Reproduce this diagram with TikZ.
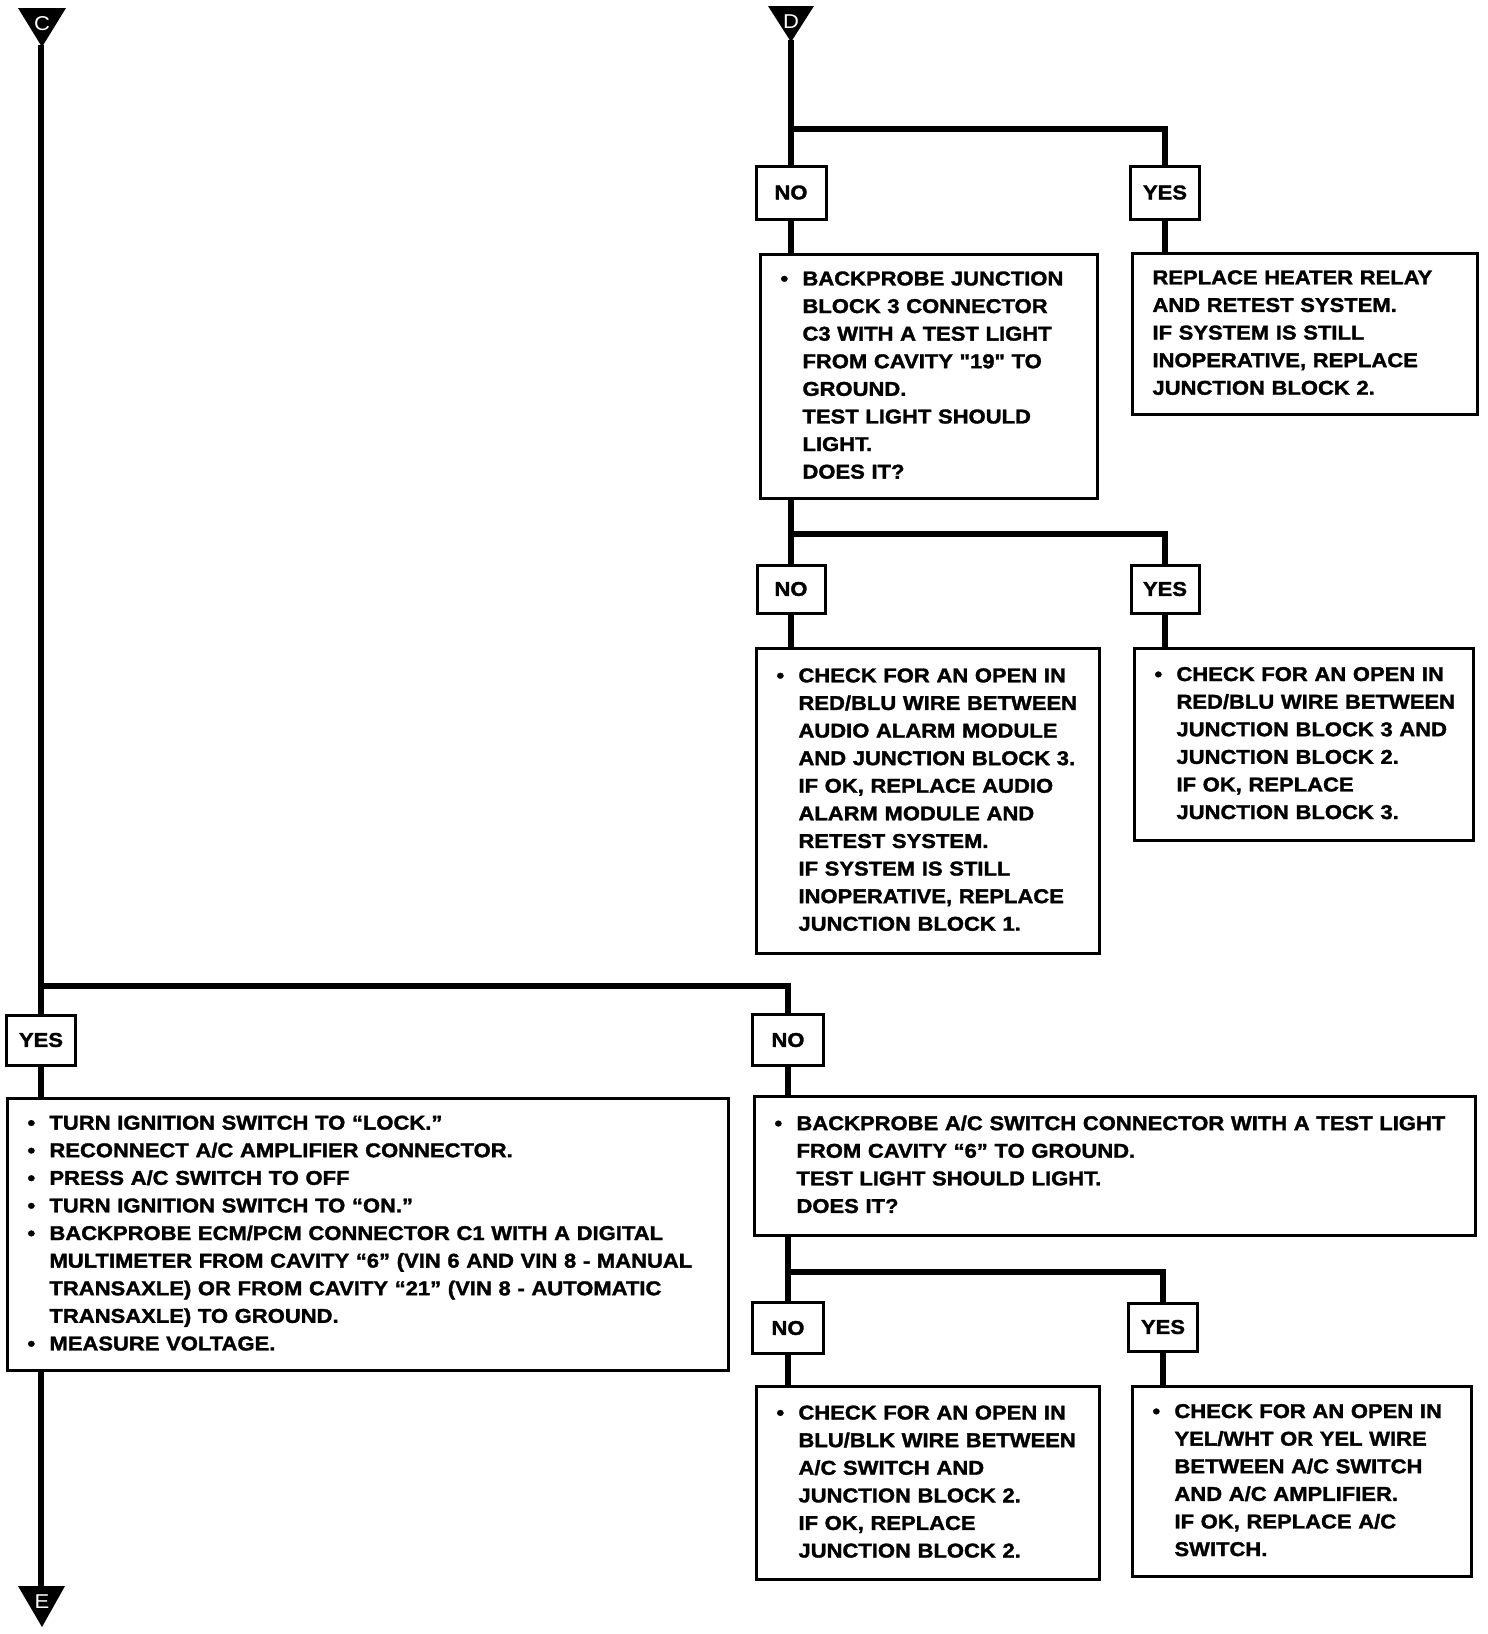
\documentclass[tikz,border=0pt]{standalone}
\usepackage{fontspec}
\usepackage{array}
\newfontfamily\diagfont{Liberation Sans}[FakeStretch=1.1, BoldFeatures={FakeBold=1.6}]
\newcommand{\txtfont}{\diagfont\bfseries\fontsize{20}{27.6}\selectfont}
\begin{document}
\begin{tikzpicture}[x=1pt,y=-1pt,
  conn/.style={line width=6pt},
  tbox/.style={draw, line width=3pt, anchor=north west, inner xsep=20pt, inner ysep=0pt, align=left, font=\txtfont},
  abox/.style={draw, line width=3pt, anchor=center, inner sep=0pt, align=center, font=\txtfont},
  tri/.style={fill=black},
  trilet/.style={text=white, font=\diagfont\fontsize{20}{22}\selectfont, inner sep=0pt}
]
\useasboundingbox (0,0) rectangle (1488,1634);

% ---- terminals
\fill[tri] (18,8) -- (66,8) -- (42,47) -- cycle;
\node[trilet] (lC) at (42,24) {C};
\fill[tri] (768,6) -- (814,6) -- (791,42) -- cycle;
\node[trilet] (lD) at (791,22) {D};
\fill[tri] (18,1586) -- (65,1586) -- (42,1627) -- cycle;
\node[trilet] (lE) at (42,1602) {E};
\coordinate (Ctip) at (41,45);
\coordinate (Dtip) at (791,40);
\coordinate (Etop) at (41,1588);

% ---- top section
\node[abox, minimum width=70pt, minimum height=53pt] (n1) at (791,192.5) {NO};
\node[abox, minimum width=69pt, minimum height=53pt] (y1) at (1165,192.5) {YES};
\node[tbox, minimum height=244pt, text width=297pt] (b1) at (759,253) {%
\begin{tabular}{@{}p{22pt}@{}l@{}}
\textbullet & BACKPROBE JUNCTION\\
 & BLOCK 3 CONNECTOR\\
 & C3 WITH A TEST LIGHT\\
 & FROM CAVITY "19" TO\\
 & GROUND.\\
 & TEST LIGHT SHOULD\\
 & LIGHT.\\
 & DOES IT?
\end{tabular}};
\node[tbox, minimum height=161pt, text width=305pt] (b2) at (1131,252) {%
\begin{tabular}{@{}l@{}}
REPLACE HEATER RELAY\\
AND RETEST SYSTEM.\\
IF SYSTEM IS STILL\\
INOPERATIVE, REPLACE\\
JUNCTION BLOCK 2.
\end{tabular}};

% ---- middle section
\node[abox, minimum width=68pt, minimum height=48pt] (n2) at (791,589) {NO};
\node[abox, minimum width=68pt, minimum height=48pt] (y2) at (1165,589) {YES};
\node[tbox, minimum height=305pt, text width=303pt] (b3) at (755,647) {%
\begin{tabular}{@{}p{22pt}@{}l@{}}
\textbullet & CHECK FOR AN OPEN IN\\
 & RED/BLU WIRE BETWEEN\\
 & AUDIO ALARM MODULE\\
 & AND JUNCTION BLOCK 3.\\
 & IF OK, REPLACE AUDIO\\
 & ALARM MODULE AND\\
 & RETEST SYSTEM.\\
 & IF SYSTEM IS STILL\\
 & INOPERATIVE, REPLACE\\
 & JUNCTION BLOCK 1.
\end{tabular}};
\node[tbox, minimum height=192pt, text width=299pt] (b4) at (1133,647) {%
\begin{tabular}{@{}p{22pt}@{}l@{}}
\textbullet & CHECK FOR AN OPEN IN\\
 & RED/BLU WIRE BETWEEN\\
 & JUNCTION BLOCK 3 AND\\
 & JUNCTION BLOCK 2.\\
 & IF OK, REPLACE\\
 & JUNCTION BLOCK 3.
\end{tabular}};

% ---- lower section
\node[abox, minimum width=69pt, minimum height=50pt] (y3) at (41,1040) {YES};
\node[abox, minimum width=71pt, minimum height=51pt] (n3) at (788,1040) {NO};
\node[tbox, minimum height=272pt, text width=681pt] (bL) at (6,1097) {%
\begin{tabular}{@{}p{22pt}@{}l@{}}
\textbullet & TURN IGNITION SWITCH TO “LOCK.”\\
\textbullet & RECONNECT A/C AMPLIFIER CONNECTOR.\\
\textbullet & PRESS A/C SWITCH TO OFF\\
\textbullet & TURN IGNITION SWITCH TO “ON.”\\
\textbullet & BACKPROBE ECM/PCM CONNECTOR C1 WITH A DIGITAL\\
 & MULTIMETER FROM CAVITY “6” (VIN 6 AND VIN 8 - MANUAL\\
 & TRANSAXLE) OR FROM CAVITY “21” (VIN 8 - AUTOMATIC\\
 & TRANSAXLE) TO GROUND.\\
\textbullet & MEASURE VOLTAGE.
\end{tabular}};
\node[tbox, minimum height=139pt, text width=681pt] (bR) at (753,1095) {%
\begin{tabular}{@{}p{22pt}@{}l@{}}
\textbullet & BACKPROBE A/C SWITCH CONNECTOR WITH A TEST LIGHT\\
 & FROM CAVITY “6” TO GROUND.\\
 & TEST LIGHT SHOULD LIGHT.\\
 & DOES IT?
\end{tabular}};

% ---- bottom section
\node[abox, minimum width=71pt, minimum height=51pt] (n4) at (788,1328) {NO};
\node[abox, minimum width=69pt, minimum height=48pt] (y4) at (1163,1327) {YES};
\node[tbox, minimum height=193pt, text width=303pt] (b5) at (755,1385) {%
\begin{tabular}{@{}p{22pt}@{}l@{}}
\textbullet & CHECK FOR AN OPEN IN\\
 & BLU/BLK WIRE BETWEEN\\
 & A/C SWITCH AND\\
 & JUNCTION BLOCK 2.\\
 & IF OK, REPLACE\\
 & JUNCTION BLOCK 2.
\end{tabular}};
\node[tbox, minimum height=190pt, text width=299pt] (b6) at (1131,1385) {%
\begin{tabular}{@{}p{22pt}@{}l@{}}
\textbullet & CHECK FOR AN OPEN IN\\
 & YEL/WHT OR YEL WIRE\\
 & BETWEEN A/C SWITCH\\
 & AND A/C AMPLIFIER.\\
 & IF OK, REPLACE A/C\\
 & SWITCH.
\end{tabular}};

% ---- junction coordinates
\coordinate (J2) at (791,129);
\coordinate (J3) at (791,534);
\coordinate (J1) at (41,986);
\coordinate (J4) at (788,1272);

% ---- connectors
\draw[conn] (Dtip) -- (n1.north);
\draw[conn] (J2) -- (J2 -| y1.north) -- (y1.north);
\draw[conn] (n1.south) -- (n1.south |- b1.north);
\draw[conn] (y1.south) -- (y1.south |- b2.north);

\draw[conn] (b1.south -| n2.north) -- (n2.north);
\draw[conn] (J3) -- (J3 -| y2.north) -- (y2.north);
\draw[conn] (n2.south) -- (n2.south |- b3.north);
\draw[conn] (y2.south) -- (y2.south |- b4.north);

\draw[conn] (Ctip) -- (y3.north);
\draw[conn] (J1) -- (J1 -| n3.north) -- (n3.north);
\draw[conn] (y3.south) -- (y3.south |- bL.north);
\draw[conn] (n3.south) -- (n3.south |- bR.north);
\draw[conn] (bL.south -| Etop) -- (Etop);

\draw[conn] (bR.south -| n4.north) -- (n4.north);
\draw[conn] (J4) -- (J4 -| y4.north) -- (y4.north);
\draw[conn] (n4.south) -- (n4.south |- b5.north);
\draw[conn] (y4.south) -- (y4.south |- b6.north);
\end{tikzpicture}
\end{document}
